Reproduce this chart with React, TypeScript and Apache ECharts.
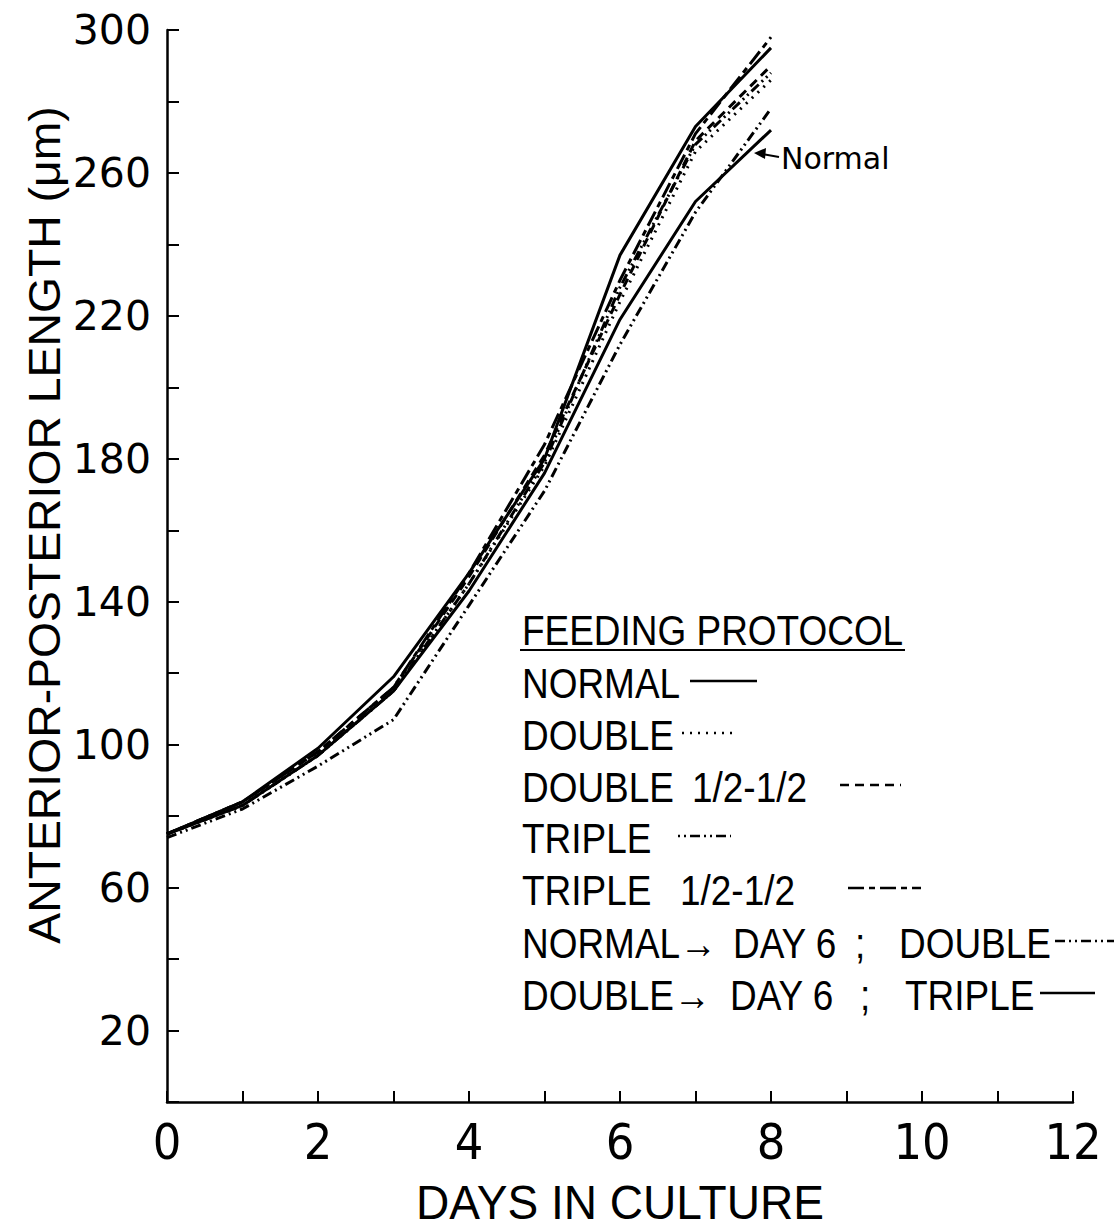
import React, { useEffect, useRef } from "react";
import * as echarts from "echarts";

const days = [0, 1, 2, 3, 4, 5, 6, 7, 8];
const normal = [75, 83, 97, 115, 143, 176, 219, 252, 272];
const double = [75, 83, 97, 115, 145, 178, 224, 266, 286];
const doubleHalf = [75, 84, 98, 116, 147, 181, 226, 269, 290];
const triple = [75, 83, 97, 115, 145, 179, 228, 268, 288];
const tripleHalf = [75, 84, 98, 116, 148, 184, 230, 271, 298];
const normalThenDouble = [74, 82, 94, 107, 139, 171, 212, 249, 278];
const doubleThenTriple = [75, 84, 99, 119, 148, 180, 237, 273, 295];

const yLabelValues = [20, 60, 100, 140, 180, 220, 260, 300];
const xLabelValues = [0, 2, 4, 6, 8, 10, 12];

const NARROW = "'DejaVu Sans Condensed', 'Liberation Sans Narrow', sans-serif";
const HELV = "'Liberation Sans', Arial, sans-serif";
const GEO = "'DejaVu Sans', Lato, sans-serif";

const dashes: Record<string, any> = {
  normal: "solid",
  double: [2, 6],
  doubleHalf: [9, 6],
  triple: [2, 4, 2, 4, 10, 4],
  tripleHalf: [16, 5, 6, 5],
  normalThenDouble: [10, 4, 2, 4, 2, 4],
  doubleThenTriple: "solid",
};

const seriesDefs = [
  { key: "normal", name: "NORMAL", data: normal },
  { key: "double", name: "DOUBLE", data: double },
  { key: "doubleHalf", name: "DOUBLE 1/2-1/2", data: doubleHalf },
  { key: "triple", name: "TRIPLE", data: triple },
  { key: "tripleHalf", name: "TRIPLE 1/2-1/2", data: tripleHalf },
  { key: "normalThenDouble", name: "NORMAL \u2192 DAY 6 ; DOUBLE", data: normalThenDouble },
  { key: "doubleThenTriple", name: "DOUBLE \u2192 DAY 6 ; TRIPLE", data: doubleThenTriple },
];

// legend rows: text pieces [text, x] and sample line
const legendRows = [
  { key: "normal", y: 683, pieces: [["NORMAL", 522]], sx: [690, 757] },
  { key: "double", y: 735, pieces: [["DOUBLE", 522]], sx: [682, 738] },
  { key: "doubleHalf", y: 787, pieces: [["DOUBLE", 522], ["1/2-1/2", 692]], sx: [840, 901] },
  { key: "triple", y: 838, pieces: [["TRIPLE", 522]], sx: [678, 731] },
  { key: "tripleHalf", y: 890, pieces: [["TRIPLE", 522], ["1/2-1/2", 680]], sx: [848, 921] },
  { key: "normalThenDouble", y: 943, pieces: [["NORMAL\u2192", 522], ["DAY 6", 733], [";", 855], ["DOUBLE", 899]], sx: [1055, 1114] },
  { key: "doubleThenTriple", y: 995, pieces: [["DOUBLE\u2192", 522], ["DAY 6", 730], [";", 860], ["TRIPLE", 905]], sx: [1040, 1095] },
];

export default function App() {
  const ref = useRef<HTMLDivElement>(null);
  useEffect(() => {
    if (!ref.current) return;
    const chart = echarts.init(ref.current, undefined, { renderer: "svg" });

    const series = seriesDefs.map((s) => ({
      type: "line",
      name: s.name,
      data: days.map((d, i) => [d, s.data[i]]),
      symbol: "none",
      lineStyle: { color: "#000", width: 3, type: dashes[s.key] },
    }));

    const graphic: any[] = [
      {
        type: "text",
        x: 522,
        y: 630,
        scaleX: 0.88,
        style: { text: "FEEDING PROTOCOL", font: `42px ${HELV}`, fill: "#000", verticalAlign: "middle", align: "left" },
      },
      {
        type: "line",
        shape: { x1: 520, y1: 650, x2: 905, y2: 650 },
        style: { stroke: "#000", lineWidth: 2 },
      },
      {
        type: "text",
        x: 45,
        y: 525,
        rotation: Math.PI / 2,
        scaleX: 1.03,
        style: {
          text: "ANTERIOR-POSTERIOR LENGTH (\u03bcm)",
          font: `45px ${HELV}`,
          fill: "#000",
          verticalAlign: "middle",
          align: "center",
        },
      },
      {
        type: "text",
        x: 620,
        y: 1202,
        scaleX: 0.96,
        style: { text: "DAYS IN CULTURE", font: `48px ${HELV}`, fill: "#000", verticalAlign: "middle", align: "center" },
      },
      {
        type: "text",
        x: 781,
        y: 158,
        style: { text: "Normal", font: `30px ${GEO}`, fill: "#000", verticalAlign: "middle", align: "left" },
      },
      {
        type: "line",
        shape: { x1: 779, y1: 157, x2: 762, y2: 154 },
        style: { stroke: "#000", lineWidth: 2 },
      },
      {
        type: "polygon",
        shape: { points: [[754, 153], [766, 148], [765, 159]] },
        style: { fill: "#000" },
      },
    ];

    legendRows.forEach((r) => {
      r.pieces.forEach((p) => {
        graphic.push({
          type: "text",
          x: p[1] as number,
          y: r.y,
          scaleX: 0.88,
          style: { text: p[0] as string, font: `42px ${HELV}`, fill: "#000", verticalAlign: "middle", align: "left" },
        });
      });
      const d = dashes[r.key];
      graphic.push({
        type: "line",
        shape: { x1: r.sx[0], y1: r.y - 2, x2: r.sx[1], y2: r.y - 2 },
        style: { stroke: "#000", lineWidth: 2.6, lineDash: d === "solid" ? null : d },
      });
    });

    chart.setOption({
      animation: false,
      backgroundColor: "#fff",
      grid: { left: 167, top: 30, width: 906, height: 1072 },
      xAxis: {
        type: "value",
        min: 0,
        max: 12,
        interval: 1,
        axisLine: { lineStyle: { color: "#000", width: 2.5 } },
        axisTick: { inside: true, length: 11, lineStyle: { color: "#000", width: 2 } },
        splitLine: { show: false },
        axisLabel: {
          margin: 15,
          fontFamily: NARROW,
          fontSize: 50,
          color: "#000",
          formatter: (v: number) => (xLabelValues.includes(v) ? String(v) : ""),
        },
      },
      yAxis: {
        type: "value",
        min: 0,
        max: 300,
        interval: 20,
        axisLine: { lineStyle: { color: "#000", width: 2.5 } },
        axisTick: { inside: true, length: 12, lineStyle: { color: "#000", width: 2 } },
        splitLine: { show: false },
        axisLabel: {
          margin: 16,
          fontFamily: GEO,
          fontSize: 41,
          color: "#000",
          formatter: (v: number) => (yLabelValues.includes(v) ? String(v) : ""),
        },
      },
      series,
      graphic,
    });
    return () => chart.dispose();
  }, []);
  return (
    <div
      ref={ref}
      style={{ position: "fixed", left: 0, top: 0, width: 1116, height: 1228, background: "#fff" }}
    />
  );
}
